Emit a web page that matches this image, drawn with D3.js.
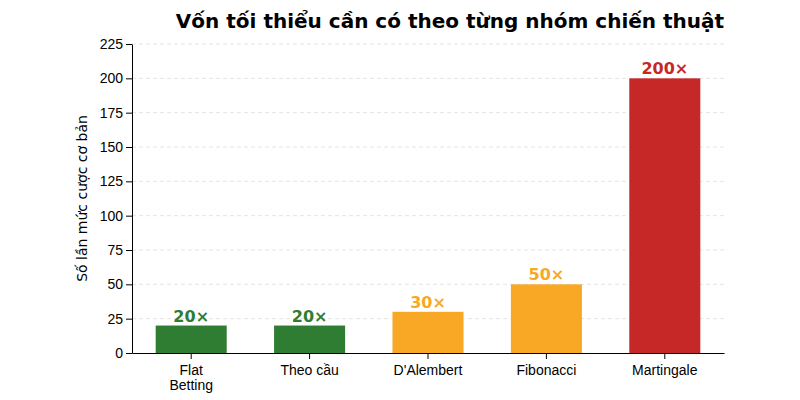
<!DOCTYPE html>
<html><head><meta charset="utf-8">
<script src="https://cdn.jsdelivr.net/npm/d3@7"></script>
<style>body{margin:0;background:#fff;font-family:"DejaVu Sans",sans-serif}</style>
</head><body><div id="chart"></div>
<script>
var categories = ["Flat\nBetting", "Theo cầu", "D'Alembert", "Fibonacci", "Martingale"];
var values = [20, 20, 30, 50, 200];
var colors = ["#2e7d32", "#2e7d32", "#f9a825", "#f9a825", "#c62828"];
var yTicks = [0, 25, 50, 75, 100, 125, 150, 175, 200, 225];

var margin = { top: 44, right: 76, bottom: 47, left: 132 },
  width = 800 - margin.left - margin.right,
  height = 400 - margin.top - margin.bottom;

var svg = d3.select("#chart").append("svg")
  .attr("width", 800).attr("height", 400)
  .append("g")
  .attr("transform", "translate(" + margin.left + "," + margin.top + ")");

var x = d3.scaleBand().domain(categories).range([0, width]).paddingInner(0.4).paddingOuter(0.2);
var y = d3.scaleLinear().domain([0, 225]).range([height, 0]);

// grid
svg.selectAll(".grid").data(yTicks.slice(1)).enter().append("line")
  .attr("x1", 0).attr("x2", width)
  .attr("y1", d => y(d)).attr("y2", d => y(d))
  .attr("stroke", "#dddddd").attr("stroke-dasharray", "4,3").attr("stroke-width", 0.8);

svg.selectAll(".bar").data(values).enter().append("rect")
  .attr("x", (d, i) => x(categories[i]))
  .attr("width", x.bandwidth())
  .attr("y", d => y(d))
  .attr("height", d => height - y(d))
  .attr("fill", (d, i) => colors[i]);

svg.selectAll(".lbl").data(values).enter().append("text")
  .attr("x", (d, i) => x(categories[i]) + x.bandwidth() / 2)
  .attr("y", d => y(d) - 4)
  .attr("text-anchor", "middle")
  .style("font-size", "16px").style("font-weight", "bold")
  .attr("fill", (d, i) => colors[i])
  .text(d => d + "×");

var xa = svg.append("g").attr("transform", "translate(0," + height + ")")
  .call(d3.axisBottom(x).tickSizeOuter(0));
xa.selectAll("text").remove();
xa.selectAll(".tick").append("text")
  .attr("fill", "#000").style("font-size", "14px").attr("text-anchor", "middle")
  .each(function (d) {
    var t = d3.select(this);
    d.split("\n").forEach((s, i) => t.append("tspan").attr("x", 0).attr("y", 22 + i * 15).text(s));
  });

var ya = svg.append("g").call(d3.axisLeft(y).tickValues(yTicks).tickSizeOuter(0));
ya.selectAll("text").style("font-size", "14px").attr("fill", "#000");
svg.selectAll(".domain").attr("stroke", "#000");

svg.append("text")
  .attr("transform", "rotate(-90)")
  .attr("x", -height / 2).attr("y", -45)
  .attr("text-anchor", "middle").style("font-size", "14px")
  .text("Số lần mức cược cơ bản");

svg.append("text")
  .attr("x", width / 2 + 22).attr("y", -16)
  .attr("text-anchor", "middle")
  .style("font-size", "20px").style("font-weight", "bold")
  .text("Vốn tối thiểu cần có theo từng nhóm chiến thuật");
</script></body></html>
